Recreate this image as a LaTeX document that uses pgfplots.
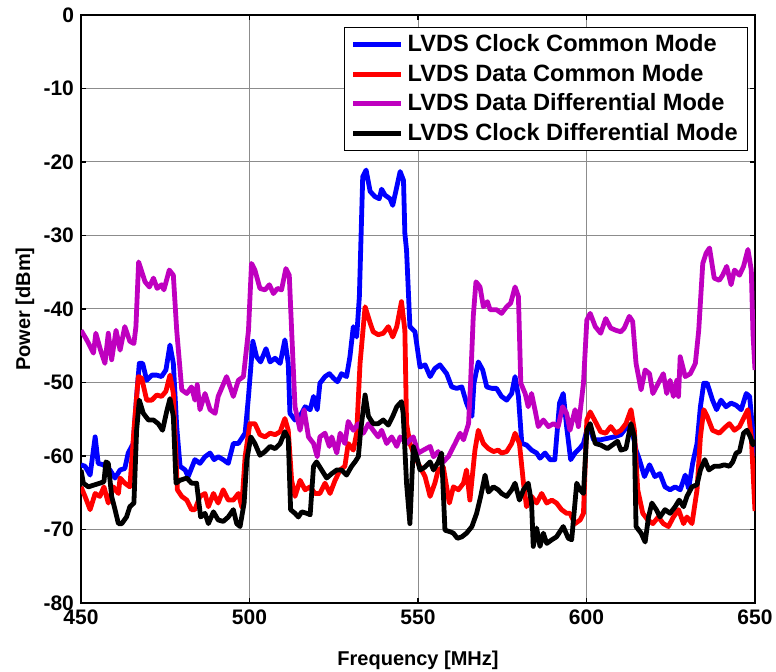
\documentclass[border=0pt]{standalone}
\usepackage{fontspec}
\setmainfont{Liberation Sans}
\usepackage{pgfplots}
\pgfplotsset{compat=1.18}
\definecolor{clkcm}{RGB}{0,0,255}
\definecolor{datcm}{RGB}{255,0,0}
\definecolor{datdm}{RGB}{191,0,191}
\definecolor{clkdm}{RGB}{0,0,0}
\begin{document}
\begin{tikzpicture}
\begin{axis}[
  name=ax,
  scale only axis,
  width=337pt, height=294pt,
  xmin=450, xmax=650, ymin=-80, ymax=0,
  xtick={450,500,...,650}, ytick={-80,-70,...,0},
  axis line style={line width=0.9pt},
  tick style={black, line width=0.6pt},
  major tick length=2.5pt,
  tick align=inside,
  grid=major,
  grid style={black!45, line width=0.5pt},
  /pgf/number format/assume math mode=true,
  tick label style={font=\fontsize{10.5}{12}\selectfont\bfseries},
  xlabel={Frequency [MHz]},
  ylabel={Power [dBm]},
  label style={font=\fontsize{10}{12}\selectfont\bfseries},
  xlabel style={at={(axis description cs:0.5,-0.097)}, anchor=center},
  ylabel style={at={(axis description cs:-0.083,0.5)}, anchor=center, rotate=0},
  legend style={at={(rel axis cs:0.990,0.980)}, anchor=north east,
    draw=black, line width=0.6pt, font=\fontsize{11.8}{13}\selectfont\bfseries,
    inner xsep=3pt, inner ysep=1.5pt, row sep=0.8pt},
  legend cell align=left,
  legend image code/.code={\draw[#1, line width=2.4pt] (0pt,0pt) -- (24pt,0pt);},
  every axis plot/.append style={line width=2.4pt, line join=round},
  clip=true,
]
\addplot[clkcm] coordinates {
(450,-61.2)(451.2,-61.4)(452.7,-62.6)(454.2,-57.4)(455.1,-61.0)(456.6,-61.2)(458.6,-61.9)(460.1,-63.0)(461.6,-61.9)(463.0,-61.7)(464.0,-59.6)(465.5,-58.3)(466.5,-51.9)(467.3,-47.4)(468.3,-47.4)(469.5,-49.7)(471.0,-49.0)(472.5,-49.0)(473.9,-49.2)(475.2,-48.3)(476.4,-44.9)(477.4,-47.4)(478.4,-56.0)(479.4,-61.4)(480.9,-61.9)(481.8,-62.8)(483.8,-60.5)(485.3,-61.0)(486.8,-60.1)(488.3,-59.6)(489.5,-60.5)(490.7,-60.1)(492.2,-60.5)(493.7,-61.0)(495.2,-58.3)(496.7,-58.3)
(498.7,-56.9)(499.7,-51.9)(501.0,-44.4)(502.1,-46.5)(503.3,-47.2)(504.9,-45.4)(506.1,-47.2)(507.6,-46.7)(509.1,-47.4)(510.5,-44.2)(511.5,-47.4)(512.0,-54.2)(513.5,-55.1)(515.0,-54.6)(516.5,-53.3)(518.0,-53.7)(519.0,-51.9)(520.1,-53.7)(520.9,-50.1)(522.4,-49.2)(523.7,-48.8)(524.9,-49.4)(526.1,-49.9)(527.3,-48.8)(528.8,-49.2)(529.8,-46.5)(530.8,-42.4)(531.8,-43.8)(532.6,-38.3)
(533.6,-22.0)(534.6,-21.1)(535.8,-24.0)(537.2,-24.7)(538.5,-25.0)(539.2,-23.7)(540.2,-24.5)(541.7,-25.0)(542.5,-25.9)(543.7,-23.4)(544.7,-21.3)(545.7,-22.5)(546.1,-29.7)
(546.6,-32.0)(547.6,-42.4)(549.1,-43.1)(550.6,-47.9)(552.1,-47.6)(553.6,-49.2)(555.0,-48.1)(556.5,-47.6)(558.5,-48.8)(560.0,-50.6)(561.5,-50.8)(563.0,-50.6)(564.4,-52.8)(566.0,-54.6)(566.6,-50.1)(567.9,-47.2)(569.2,-48.3)(570.4,-50.6)(571.9,-50.8)(573.3,-50.8)(574.8,-51.9)(576.3,-52.4)(577.8,-51.5)(578.8,-49.2)(579.8,-51.9)(580.8,-58.3)(582.2,-58.5)(583.7,-59.2)(585.2,-59.6)(586.2,-60.3)(587.7,-59.6)(589.2,-60.5)(590.6,-60.5)(592.0,-52.8)(593.1,-51.5)(594.1,-56.0)(595.3,-60.5)
(596.6,-59.6)(598.1,-58.9)(599.1,-58.3)(600.6,-55.6)(602.1,-57.8)(604.2,-57.8)(606.2,-57.6)(608.2,-57.4)(610.2,-57.1)(611.7,-56.2)(613.2,-55.8)(614.7,-59.2)(615.7,-60.5)(617.2,-62.8)(618.7,-61.2)(620.3,-62.8)(621.8,-62.4)(623.3,-64.2)(624.8,-64.6)(626.3,-64.2)(627.8,-64.6)(629.3,-62.6)(630.3,-64.4)(631.5,-61.0)(632.8,-58.3)(633.8,-53.3)(634.8,-50.1)(635.8,-50.1)(637.4,-52.4)(638.6,-53.7)(639.9,-52.4)(641.4,-53.3)(642.9,-52.8)(644.4,-53.1)(645.9,-53.7)(647.4,-51.5)(648.4,-51.9)(650,-60.0)
};
\addlegendentry{LVDS Clock Common Mode}
\addplot[datcm] coordinates {
(450,-64.2)(451.2,-65.5)(452.7,-67.3)(454.2,-65.1)(455.6,-65.5)(456.8,-64.2)(458.1,-66.4)(459.6,-64.2)(461.1,-65.1)(461.6,-63.0)(463.0,-63.7)(464.5,-64.2)(465.7,-56.5)(467.0,-49.2)(468.0,-49.4)(469.5,-52.4)(471.0,-52.4)(472.5,-51.7)(473.9,-51.9)(475.2,-51.2)(476.4,-49.0)(477.4,-51.5)(478.6,-64.6)(479.9,-65.5)(481.4,-66.0)(482.8,-67.3)(483.8,-67.3)(485.3,-65.5)(486.8,-65.1)(487.8,-66.9)(489.3,-65.1)(490.7,-66.4)(492.2,-64.6)(493.7,-66.0)(495.2,-66.0)(496.7,-65.1)(497.7,-66.9)
(498.7,-60.1)(500.1,-55.6)(501.6,-55.6)(503.1,-57.1)(504.6,-57.4)(506.1,-56.9)(507.6,-57.1)(509.1,-56.7)(510.5,-54.9)(511.5,-56.5)(512.5,-63.3)(513.5,-65.5)(515.0,-63.3)(516.5,-64.6)(518.0,-64.2)(519.4,-65.1)(520.9,-65.1)(522.4,-63.7)(523.9,-65.1)(525.4,-63.3)(526.9,-61.9)(528.3,-61.4)(529.3,-58.3)(530.8,-59.2)(531.8,-56.9)(532.8,-47.4)(534.3,-39.7)(535.8,-41.9)(536.7,-43.1)(538.2,-43.5)(539.7,-43.3)(541.2,-42.4)(542.5,-43.8)(543.7,-42.4)(545.1,-39.0)(546.1,-42.9)
(546.6,-55.6)(547.6,-58.3)(549.1,-60.1)(550.6,-61.5)(552.1,-62.8)(553.6,-65.5)(555.0,-63.7)(556.0,-61.9)(557.5,-61.5)(559.3,-66.4)(560.5,-64.2)(562.0,-64.6)(563.5,-63.7)(564.4,-61.9)(565.4,-66.0)(566.9,-59.2)(567.9,-56.5)(569.4,-58.3)(570.9,-59.0)(572.4,-59.4)(573.8,-59.2)(574.8,-59.6)(576.3,-59.4)(577.8,-58.3)(578.8,-56.9)(580.1,-58.3)(581.3,-63.7)(582.2,-66.9)(583.7,-65.5)(585.2,-66.4)(586.7,-65.1)(588.2,-66.4)(589.7,-66.0)(591.1,-66.4)(592.6,-67.3)(594.1,-67.8)
(595.1,-67.8)(596.6,-69.2)(598.1,-68.7)(599.1,-67.8)(600.1,-55.1)(601.1,-54.0)(602.6,-55.3)(604.2,-56.7)(605.7,-56.9)(607.2,-56.0)(608.7,-56.9)(610.2,-56.5)(611.7,-55.6)(613.2,-53.7)(614.2,-56.5)(615.2,-64.6)(616.7,-67.8)(618.2,-68.7)(619.7,-69.2)(621.3,-68.3)(622.8,-69.2)(624.3,-69.6)(625.8,-68.3)(627.3,-67.3)(628.8,-69.2)(629.8,-68.3)(631.3,-69.2)(632.8,-64.6)(633.8,-57.4)(634.8,-53.7)(635.8,-54.6)(637.4,-56.5)(639.4,-56.9)(640.9,-56.2)(642.4,-55.6)(643.9,-56.5)(645.4,-56.0)(646.9,-54.6)(647.9,-53.7)(648.9,-57.4)(650,-67.5)
};
\addlegendentry{LVDS Data Common Mode}
\addplot[datdm] coordinates {
(450,-42.9)(451.7,-44.2)(453.7,-46.0)(454.4,-43.3)(455.8,-45.6)(457.1,-47.4)(458.1,-43.3)(459.1,-46.9)(460.4,-42.9)(461.6,-45.6)(463.0,-42.4)(464.5,-44.4)(465.7,-44.7)(466.3,-42.4)(467.1,-33.6)(469.0,-36.3)(470.3,-37.0)(471.5,-35.8)(472.6,-37.2)(473.9,-36.7)(474.6,-37.4)(476.2,-34.7)(477.4,-35.4)(478.4,-42.9)(479.9,-51.0)(481.4,-51.5)(482.8,-50.6)(483.8,-52.4)(484.5,-50.3)(485.3,-53.7)(486.8,-51.5)(488.3,-53.7)(489.8,-54.2)(490.7,-51.9)(493.2,-49.2)(495.2,-51.9)(496.7,-49.7)
(498.2,-49.2)(499.7,-42.9)(500.6,-33.8)(501.6,-34.7)(503.1,-37.2)(504.6,-37.4)(505.9,-36.7)(507.1,-37.9)(508.3,-37.2)(509.5,-37.4)(510.8,-34.5)(511.8,-35.4)(512.5,-42.9)(513.5,-53.3)(515.0,-56.5)(516.2,-53.7)(517.5,-57.4)(519.0,-58.3)(520.1,-60.1)(520.9,-57.4)(522.4,-56.9)(523.7,-58.7)(524.4,-57.4)(525.9,-59.6)(526.9,-56.9)(528.3,-58.3)(529.3,-55.3)(530.8,-56.5)(532.3,-55.6)(533.8,-56.9)(535.3,-55.6)(536.7,-56.5)(538.2,-57.4)(539.2,-56.5)(540.7,-58.3)(542.2,-57.4)(543.7,-58.7)(544.7,-57.4)
(546.6,-58.3)(548.6,-57.4)(550.1,-59.6)(551.6,-59.2)(553.6,-58.7)(554.6,-60.1)(556.0,-59.4)(557.5,-60.8)(559.0,-60.1)(561.0,-58.3)(562.5,-56.9)(563.5,-57.8)(565.0,-55.6)(565.6,-50.1)(566.4,-41.0)(567.2,-36.3)(568.4,-37.0)(569.4,-39.7)(570.6,-39.0)(571.4,-40.1)(573.3,-40.1)(574.8,-40.6)(576.3,-39.7)(577.5,-39.2)(578.8,-37.0)(579.8,-38.3)(580.5,-50.1)(581.8,-51.5)(582.7,-53.3)(583.7,-51.5)(584.7,-53.7)(585.7,-56.0)(587.2,-55.1)(588.7,-56.0)(590.2,-55.6)(591.6,-56.0)(592.9,-53.3)(594.1,-54.2)
(595.1,-56.5)(596.6,-53.7)(597.6,-56.0)(599.1,-50.1)(600.1,-41.5)(601.1,-40.6)(602.6,-42.4)(604.2,-43.3)(605.7,-41.3)(607.2,-42.6)(608.7,-42.9)(610.2,-43.1)(611.2,-42.6)(612.7,-41.0)(613.7,-41.7)(614.7,-47.4)(616.2,-51.0)(617.4,-48.3)(618.7,-48.8)(619.7,-51.5)(621.3,-50.1)(622.8,-48.8)(623.8,-51.5)(624.8,-49.7)(625.8,-51.9)(626.8,-49.7)(627.3,-51.9)(627.8,-46.5)(629.3,-49.2)(630.8,-48.8)(632.3,-47.4)(633.3,-42.9)(634.5,-33.8)(635.5,-32.4)(636.5,-31.7)(637.9,-35.8)(639.4,-36.1)(640.4,-35.4)(641.6,-34.2)(642.9,-36.7)(643.9,-34.7)(645.4,-35.4)(646.6,-34.2)(647.9,-31.9)(648.9,-34.7)(649.4,-43.3)(650,-48.3)
};
\addlegendentry{LVDS Data Differential Mode}
\addplot[clkdm] coordinates {
(450,-61.9)(450.7,-63.7)(452.2,-64.2)(454.2,-63.9)(455.6,-63.7)(456.8,-63.5)(457.4,-60.8)(458.1,-61.0)(459.1,-65.5)(460.1,-67.3)(461.1,-69.2)(462.1,-69.2)(463.5,-68.3)(464.5,-66.9)(465.7,-66.4)(466.5,-56.5)(467.3,-52.4)(468.5,-54.2)(470.0,-55.1)(471.5,-55.1)(472.9,-55.6)(474.2,-56.5)(475.4,-54.0)(476.4,-52.2)(477.4,-54.6)(478.2,-63.7)(479.4,-63.3)(481.4,-63.0)(482.8,-63.7)(484.3,-63.7)(485.5,-68.3)(486.8,-67.8)(487.8,-69.2)(489.3,-67.6)(490.7,-68.7)(492.2,-68.9)(493.7,-68.3)(495.2,-67.3)(496.2,-69.2)(497.2,-69.6)
(498.4,-66.4)(499.2,-60.5)(500.4,-57.4)(501.6,-58.3)(503.1,-59.9)(504.6,-59.4)(506.1,-58.7)(507.6,-59.0)(509.1,-58.3)(510.5,-56.7)(511.5,-57.6)(512.2,-67.3)(513.5,-67.8)(514.5,-68.3)(515.5,-67.6)(517.0,-67.8)(518.0,-68.0)(519.0,-61.4)(519.9,-60.8)(521.4,-61.9)(522.9,-63.0)(524.4,-62.4)(525.9,-61.9)(527.3,-61.9)(528.8,-62.6)(530.3,-61.4)(531.3,-60.8)(532.3,-60.1)(533.0,-56.5)(534.3,-51.7)(535.3,-54.6)(536.7,-55.6)(538.2,-55.6)(539.7,-55.1)(541.2,-55.8)(542.5,-54.6)(543.7,-53.3)(545.1,-52.6)
(545.6,-54.2)(546.6,-63.7)(547.6,-69.2)(548.6,-58.7)(549.6,-60.1)(550.6,-61.9)(552.1,-61.5)(553.6,-60.8)(554.6,-61.9)(556.0,-60.8)(557.0,-59.6)(558.0,-70.1)(559.5,-70.3)(560.5,-70.5)(561.7,-71.2)(563.0,-71.0)(564.4,-70.5)(566.0,-69.6)(567.4,-67.8)(568.6,-65.5)(569.9,-62.6)(570.9,-64.9)(572.4,-64.2)(573.8,-64.6)(574.8,-65.1)(576.3,-65.5)(577.8,-64.6)(578.8,-63.7)(580.1,-66.0)(581.3,-64.6)(582.7,-63.7)(583.7,-66.4)(584.2,-72.3)(585.2,-69.8)(586.2,-72.3)(587.2,-70.5)(588.2,-71.9)(589.7,-71.4)(591.1,-71.0)(593.1,-69.6)(594.6,-71.2)
(595.6,-71.4)(597.1,-63.7)(598.1,-64.6)(599.1,-65.1)(600.1,-56.5)(601.1,-55.6)(602.6,-58.3)(604.2,-58.5)(606.2,-59.0)(607.7,-58.5)(609.2,-58.0)(610.2,-59.2)(611.7,-59.0)(613.2,-55.6)(614.2,-57.4)(614.7,-69.6)(616.2,-70.5)(617.4,-71.7)(618.4,-68.3)(619.4,-66.4)(620.7,-67.3)(621.8,-68.3)(623.3,-67.3)(624.8,-67.8)(626.3,-66.9)(627.5,-66.0)(628.8,-66.9)(629.8,-65.5)(631.3,-64.2)(632.8,-63.9)(633.8,-61.9)(635.1,-60.5)(636.3,-61.9)(637.9,-61.4)(639.4,-61.4)(640.9,-61.2)(642.4,-61.4)(643.4,-60.8)(644.4,-59.6)(645.4,-59.4)(646.6,-56.9)(647.6,-56.5)(648.6,-57.4)(649.4,-58.5)(650,-57.8)
};
\addlegendentry{LVDS Clock Differential Mode}
\end{axis}
\pgfresetboundingbox
\path ([xshift=-40.5pt,yshift=-34.5pt]ax.south west) rectangle ([xshift=10.5pt,yshift=7.5pt]ax.north east);
\end{tikzpicture}
\end{document}
